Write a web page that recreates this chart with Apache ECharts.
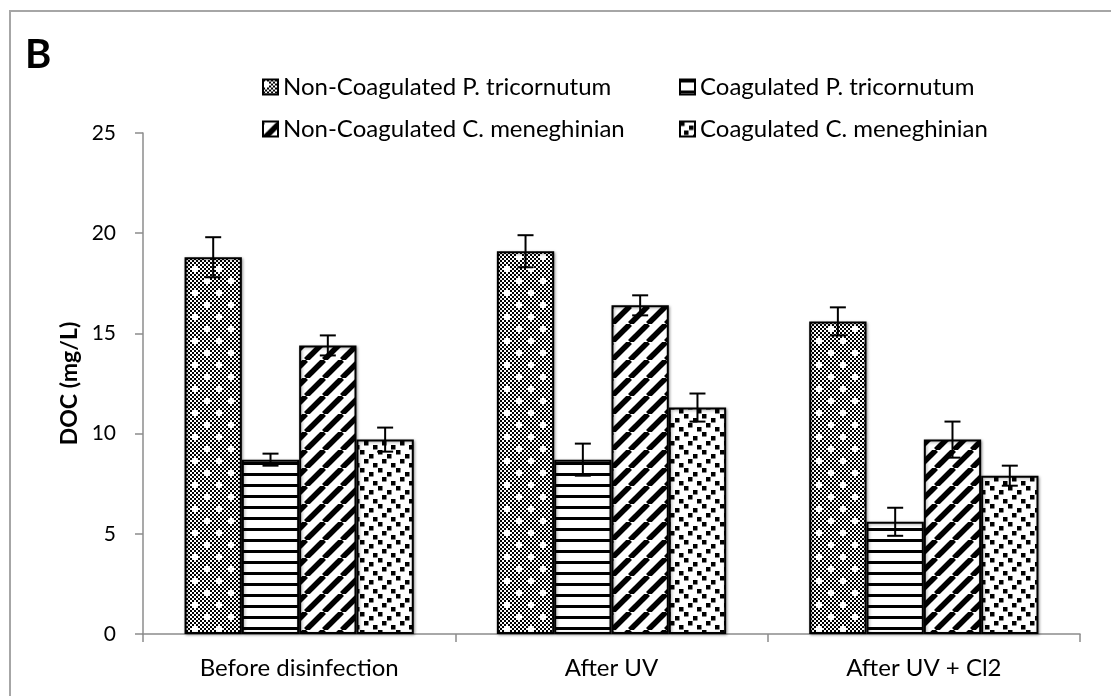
<!DOCTYPE html>
<html>
<head>
<meta charset="utf-8">
<script src="https://cdn.jsdelivr.net/npm/echarts@6/dist/echarts.min.js"></script>
<style>
  html, body { margin: 0; padding: 0; background: #fff; }
  #chart { width: 1111px; height: 696px; }
</style>
</head>
<body>
<div id="chart"></div>
<script>
// Treatment stages on the x axis
const categories = ['Before disinfection', 'After UV', 'After UV + Cl2'];

// Series names
const seriesNames = [
  'Non-Coagulated P. tricornutum',
  'Coagulated P. tricornutum',
  'Non-Coagulated C. meneghinian',
  'Coagulated C. meneghinian'
];

// DOC (mg/L) means per stage
const nonCoagPT = [18.8, 19.1, 15.6];
const coagPT    = [8.7, 8.7, 5.6];
const nonCoagCM = [14.4, 16.4, 9.7];
const coagCM    = [9.7, 11.3, 7.9];

// Error bar half-widths (mg/L)
const errNonCoagPT = [1.0, 0.8, 0.7];
const errCoagPT    = [0.3, 0.8, 0.7];
const errNonCoagCM = [0.5, 0.5, 0.9];
const errCoagCM    = [0.6, 0.7, 0.5];

// Y axis ticks
const yTicks = [0, 5, 10, 15, 20, 25];

const values = [nonCoagPT, coagPT, nonCoagCM, coagCM];
const errors = [errNonCoagPT, errCoagPT, errNonCoagCM, errCoagCM];

// --- hatch fills ---
function makeTile(w, h, draw) {
  const c = document.createElement('canvas');
  c.width = w; c.height = h;
  const g = c.getContext('2d');
  g.fillStyle = '#fff';
  g.fillRect(0, 0, w, h);
  g.fillStyle = '#000';
  g.strokeStyle = '#000';
  draw(g, w, h);
  return c;
}

// fine checkerboard sprinkled with small white crosses
const checkerTile = makeTile(24, 24, function (g) {
  const n = 12;
  const black = {};
  for (let x = 0; x < n; x++) {
    for (let y = 0; y < n; y++) {
      if ((x + y) % 2 === 0) black[x + ',' + y] = true;
    }
  }
  [[1, 2], [7, 8]].forEach(function (p) {
    const cx = p[0], cy = p[1];
    [[1, 0], [-1, 0], [0, 1], [0, -1]].forEach(function (d) {
      const nx = (cx + d[0] + n) % n, ny = (cy + d[1] + n) % n;
      delete black[nx + ',' + ny];
    });
  });
  Object.keys(black).forEach(function (k) {
    const p = k.split(',');
    g.fillRect(+p[0] * 2, +p[1] * 2, 2, 2);
  });
});

// horizontal lines
const hLineTile = makeTile(4, 11, function (g, w) {
  g.fillRect(0, 0, w, 3);
});

// wide upward diagonal stripes
const diagTile = makeTile(18, 18, function (g, w, h) {
  g.lineWidth = 5.5;
  [-w, 0, w].forEach(function (o) {
    g.beginPath();
    g.moveTo(o, h);
    g.lineTo(o + w, 0);
    g.stroke();
  });
});

// scattered square confetti
const confettiTile = makeTile(18, 18, function (g) {
  [[0, 0], [9, 4], [4, 9], [13, 13]].forEach(function (p) {
    g.fillRect(p[0], p[1], 4.5, 4.5);
  });
});

const fills = [checkerTile, hLineTile, diagTile, confettiTile].map(function (t) {
  return { image: t, repeat: 'repeat' };
});

const CAT_GAP = 0.266;
const FONT = 'Lato';

const barSeries = seriesNames.map(function (name, i) {
  return {
    name: name,
    type: 'bar',
    data: values[i],
    barGap: '0%',
    barCategoryGap: (CAT_GAP * 100) + '%',
    itemStyle: {
      color: fills[i],
      borderColor: '#000',
      borderWidth: 2,
      shadowColor: 'rgba(0,0,0,0.35)',
      shadowBlur: 3,
      shadowOffsetX: 1,
      shadowOffsetY: 1
    },
    emphasis: { disabled: true },
    z: 2
  };
});

// error bars: [categoryIndex, value, lower, upper, seriesIndex]
const errData = [];
values.forEach(function (vals, s) {
  vals.forEach(function (v, c) {
    errData.push([c, v, v - errors[s][c], v + errors[s][c], s]);
  });
});

const errorSeries = {
  type: 'custom',
  name: 'errors',
  data: errData,
  encode: { x: 0, y: [2, 3] },
  z: 5,
  silent: true,
  renderItem: function (params, api) {
    const c = api.value(0);
    const s = api.value(4);
    const catW = api.size([1, 0])[0];
    const groupW = catW * (1 - CAT_GAP);
    const barW = groupW / seriesNames.length;
    const center = api.coord([c, 0])[0] - groupW / 2 + barW * (s + 0.5);
    const lo = api.coord([c, api.value(2)])[1];
    const hi = api.coord([c, api.value(3)])[1];
    const half = 8;
    const style = { stroke: '#000', lineWidth: 2 };
    return {
      type: 'group',
      children: [
        { type: 'line', shape: { x1: center, y1: lo, x2: center, y2: hi }, style: style },
        { type: 'line', shape: { x1: center - half, y1: hi, x2: center + half, y2: hi }, style: style },
        { type: 'line', shape: { x1: center - half, y1: lo, x2: center + half, y2: lo }, style: style }
      ]
    };
  }
};

const legendText = { fontFamily: FONT, fontSize: 24, lineHeight: 24, color: '#000' };
const legendBase = {
  orient: 'vertical',
  top: 70,
  itemGap: 18,
  itemWidth: 15,
  itemHeight: 15,
  icon: 'rect',
  selectedMode: false,
  textStyle: legendText
};

const chart = echarts.init(document.getElementById('chart'), null, { renderer: 'canvas' });

chart.setOption({
  backgroundColor: '#fff',
  animation: false,
  title: {
    text: 'B',
    left: 20,
    top: 30,
    textStyle: { fontFamily: FONT, fontWeight: 'bold', fontSize: 40, color: '#000' }
  },
  graphic: [{
    type: 'polyline',
    shape: { points: [[10, 720], [10, 11], [1130, 11]] },
    style: { stroke: '#a6a6a6', lineWidth: 2, fill: null },
    silent: true
  }],
  legend: [
    Object.assign({}, legendBase, { left: 257, data: [seriesNames[0], seriesNames[2]] }),
    Object.assign({}, legendBase, { left: 674, data: [seriesNames[1], seriesNames[3]] })
  ],
  grid: { left: 143, right: 31, top: 133, bottom: 62, containLabel: false },
  xAxis: {
    type: 'category',
    data: categories,
    axisLine: { lineStyle: { color: '#8c8c8c', width: 1.5 } },
    axisTick: { show: true, length: 8, alignWithLabel: false, lineStyle: { color: '#8c8c8c', width: 1.5 } },
    axisLabel: { fontFamily: FONT, fontSize: 24, color: '#000', margin: 22 }
  },
  yAxis: {
    type: 'value',
    min: yTicks[0],
    max: yTicks[yTicks.length - 1],
    interval: yTicks[1] - yTicks[0],
    name: 'DOC (mg/L)',
    nameLocation: 'middle',
    nameGap: 61,
    nameRotate: 90,
    nameTextStyle: { fontFamily: FONT, fontWeight: 'bold', fontSize: 23, color: '#000' },
    axisLine: { show: true, lineStyle: { color: '#8c8c8c', width: 1.5 } },
    axisTick: { show: true, length: 8, lineStyle: { color: '#8c8c8c', width: 1.5 } },
    splitLine: { show: false },
    axisLabel: { fontFamily: FONT, fontSize: 21, color: '#000', margin: 27 }
  },
  series: barSeries.concat([errorSeries])
});
</script>
</body>
</html>
